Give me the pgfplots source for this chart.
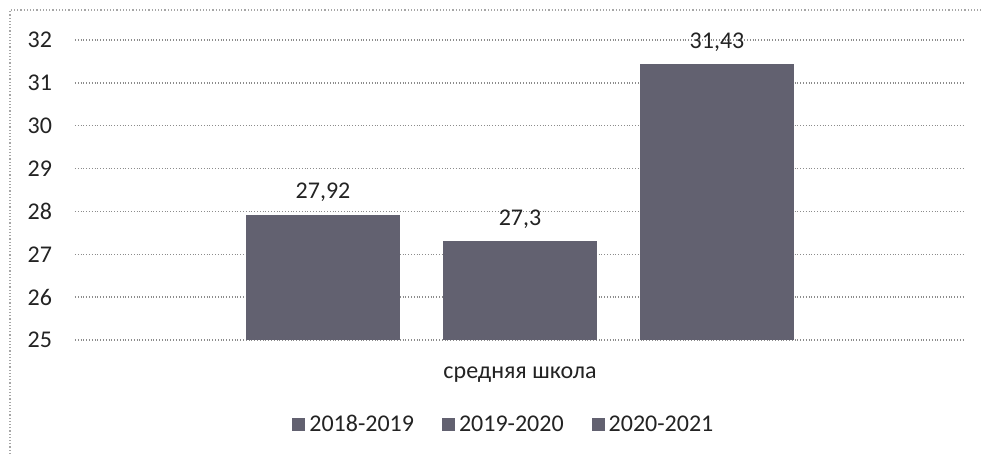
\documentclass[border=0pt]{standalone}
\usepackage{fontspec}
\setmainfont{Carlito}
\usepackage{pgfplots}
\pgfplotsset{compat=1.18}
\definecolor{barc}{RGB}{98,97,112}
\definecolor{txt}{RGB}{35,35,35}
\begin{document}
\begin{tikzpicture}
\useasboundingbox (-37.5pt,-57pt) rectangle (453pt,170pt);
\draw[gray!70, densely dotted, line width=0.6pt] (-32.5pt,-57pt) -- (-32.5pt,165pt) -- (453pt,165pt);
\begin{axis}[
  at={(0pt,0pt)}, anchor=south west,
  scale only axis, width=445pt, height=150pt,
  xmin=-2.259, xmax=2.259, ymin=25, ymax=32,
  ytick={25,26,...,32},
  xtick={0}, xticklabels={средняя школа},
  xticklabel style={yshift=-10pt, text=txt, font=\fontsize{12}{14}\selectfont},
  yticklabel style={xshift=-8pt, text=txt, font=\fontsize{12}{14}\selectfont},
  /pgf/number format/assume math mode=true,
  axis line style={draw=none}, tick style={draw=none},
  ymajorgrids, grid style={gray!90, densely dotted, line width=0.7pt},
  nodes near coords,
  nodes near coords style={text=txt, font=\fontsize{12}{14}\selectfont, yshift=3pt,
    /pgf/number format/use comma, /pgf/number format/assume math mode=true},
  legend style={at={(axis description cs:0.483,-0.283)}, anchor=center, draw=none,
    legend columns=3, font=\fontsize{12}{14}\selectfont, text=txt,
    /tikz/every even column/.append style={column sep=12pt}},
  legend image code/.code={\fill[#1] (0pt,-3.2pt) rectangle (6.5pt,3.2pt);},
]
\addplot[ybar, bar width=0.782, bar shift=0pt, fill=barc, draw=none] coordinates {(-1,27.92)};
\addplot[ybar, bar width=0.782, bar shift=0pt, fill=barc, draw=none] coordinates {(0,27.3)};
\addplot[ybar, bar width=0.782, bar shift=0pt, fill=barc, draw=none] coordinates {(1,31.43)};
\legend{2018-2019, 2019-2020, 2020-2021}
\end{axis}
\end{tikzpicture}
\end{document}
